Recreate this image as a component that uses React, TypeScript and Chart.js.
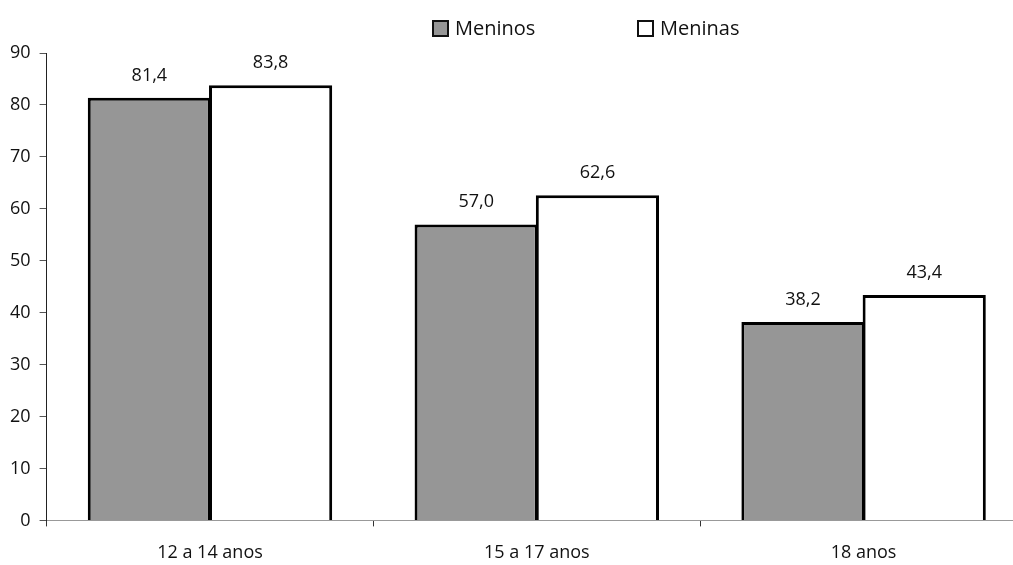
import React, { useEffect, useRef } from "react";
import { Chart, registerables } from "chart.js";

Chart.register(...registerables);

const categories = ["12 a 14 anos", "15 a 17 anos", "18 anos"];
const meninos = [81.4, 57.0, 38.2];
const meninas = [83.8, 62.6, 43.4];
const seriesNames = ["Meninos", "Meninas"];
const yTicks = [0, 10, 20, 30, 40, 50, 60, 70, 80, 90];

const FONT = "'Open Sans', sans-serif";

const valueLabels = {
  id: "valueLabels",
  afterDatasetsDraw(chart: any) {
    const ctx = chart.ctx;
    ctx.save();
    ctx.font = `18px ${FONT}`;
    ctx.fillStyle = "#111";
    ctx.textAlign = "center";
    ctx.textBaseline = "alphabetic";
    chart.data.datasets.forEach((ds: any, di: number) => {
      const meta = chart.getDatasetMeta(di);
      meta.data.forEach((bar: any, i: number) => {
        const v = ds.data[i] as number;
        ctx.fillText(v.toFixed(1).replace(".", ","), bar.x, bar.y - 17);
      });
    });
    ctx.restore();
  },
};

export default function App() {
  const ref = useRef<HTMLCanvasElement>(null);
  useEffect(() => {
    if (!ref.current) return;
    const common = {
      borderColor: "#000",
      borderWidth: 3,
      categoryPercentage: 0.742,
      barPercentage: 1.016,
    };
    const chart = new Chart(ref.current, {
      type: "bar",
      data: {
        labels: categories,
        datasets: [
          { label: seriesNames[0], data: meninos, backgroundColor: "#969696", ...common },
          { label: seriesNames[1], data: meninas, backgroundColor: "#ffffff", ...common },
        ],
      },
      options: {
        animation: false,
        responsive: true,
        maintainAspectRatio: false,
        layout: { padding: { top: 53, left: 1, right: 0, bottom: -15 } },
        plugins: {
          legend: { display: false },
          tooltip: { enabled: false },
        },
        scales: {
          x: {
            grid: {
              display: true,
              drawOnChartArea: false,
              drawTicks: true,
              tickLength: 6,
              offset: true,
              color: "#333",
            },
            border: { color: "#999", width: 1 },
            ticks: { color: "#111", font: { family: FONT, size: 18 }, padding: 16 },
          },
          y: {
            min: 0,
            max: 90,
            afterBuildTicks: (axis: any) => {
              axis.ticks = yTicks.map((v) => ({ value: v }));
            },
            grid: {
              display: true,
              drawOnChartArea: false,
              drawTicks: true,
              tickLength: 7,
              color: "#555",
            },
            border: { color: "#222", width: 1 },
            ticks: { color: "#111", font: { family: FONT, size: 18 }, padding: 9 },
          },
        },
      },
      plugins: [valueLabels],
    });
    return () => chart.destroy();
  }, []);

  const box = (fill: string) => ({
    display: "inline-block",
    width: 13,
    height: 13,
    border: "2px solid #111",
    background: fill,
    marginRight: 6,
    verticalAlign: "middle",
  });

  return (
    <div style={{ position: "absolute", left: 0, top: 0, width: 1013, height: 565, background: "#fff", overflow: "hidden" }}>
      <div style={{ position: "absolute", left: 0, top: 0, width: 1027, height: 565 }}>
        <canvas ref={ref} />
      </div>
      <div
        style={{
          position: "absolute",
          top: 14,
          left: 432,
          fontFamily: FONT,
          fontSize: 20,
          color: "#111",
          display: "flex",
          alignItems: "center",
          whiteSpace: "nowrap",
          lineHeight: "28px",
        }}
      >
        <span style={{ display: "flex", alignItems: "center", width: 205 }}>
          <span style={box("#969696")} />
          {seriesNames[0]}
        </span>
        <span style={{ display: "flex", alignItems: "center" }}>
          <span style={box("#ffffff")} />
          {seriesNames[1]}
        </span>
      </div>
    </div>
  );
}
